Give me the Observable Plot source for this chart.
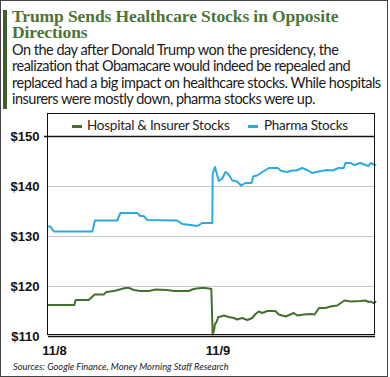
<!DOCTYPE html>
<html>
<head>
<meta charset="utf-8">
<script src="https://cdn.jsdelivr.net/npm/d3@7"></script>
<script src="https://cdn.jsdelivr.net/npm/@observablehq/plot@0.6"></script>
<style>
  html, body { margin: 0; padding: 0; background: #fff; }
  #wrap { position: relative; width: 390px; height: 377px; overflow: hidden; background: #fff; }
  #outer { position: absolute; left: 0; top: 0; width: 386px; height: 375px; border: 1px solid #444; box-sizing: content-box; }
  #bar { position: absolute; left: 3px; top: 10px; width: 4px; height: 99px; background: #3e5f2b; }
  .title { position: absolute; left: 12px; font-family: "Liberation Serif", serif; font-weight: bold; font-size: 17.5px; line-height: 13px; color: #4c7434; white-space: nowrap; letter-spacing: -0.1px; }
  #sub { position: absolute; left: 12px; top: 42px; width: 375px; font-family: Lato, sans-serif; font-size: 14.5px; line-height: 16.4px; letter-spacing: -0.5px; color: #1a1a1a; white-space: nowrap; }
  #box { position: absolute; left: 47px; top: 113px; width: 328px; height: 222px; border: 1.5px solid #111; box-sizing: border-box; }
  #legend { position: absolute; left: 47px; top: 117px; width: 328px; height: 20px; font-family: Lato, sans-serif; font-size: 13.5px; letter-spacing: -0.25px; color: #222; }
  .sw { position: absolute; top: 8px; width: 10px; height: 3px; }
  .lt { position: absolute; top: 0px; white-space: nowrap; }
  #chart { position: absolute; left: 0; top: 114px; }
  #cap { position: absolute; left: 13px; top: 361px; font-family: Lato, sans-serif; font-style: italic; font-size: 9.3px; color: #222; white-space: nowrap; }
</style>
</head>
<body>
<div id="wrap">
  <div id="outer"></div>
  <div id="bar"></div>
  <div class="title" style="top: 10px;">Trump Sends Healthcare Stocks in Opposite</div>
  <div class="title" style="top: 26px;">Directions</div>
  <div id="sub">On the day after Donald Trump won the presidency, the<br>realization that Obamacare would indeed be repealed and<br>replaced had a big impact on healthcare stocks. While hospitals<br>insurers were mostly down, pharma stocks were up.</div>
  <div id="chart"></div>
  <div id="box"></div>
  <div id="legend"></div>
  <div id="cap">Sources: Google Finance, Money Morning Staff Research</div>
</div>
<script>
// Series names and colours
const seriesNames = ["Hospital & Insurer Stocks", "Pharma Stocks"];
const seriesColors = ["#44702f", "#29abe2"];

// x: position across the two sessions (0 = open 11/8, 50 = open 11/9, 100 = close 11/9)
const hospitalT = [0, 7.9, 8.3, 12.3, 14.1, 16.9, 17.7, 20.0, 23.5, 24.6, 26.1, 28.1, 30.7, 32.7, 36.3, 38.3, 42.9, 44.4, 46.5, 48.0, 49.8,
  50.2, 50.6, 50.9, 51.4, 51.9, 52.8, 53.6, 55.1, 56.7, 57.7, 59.2, 60.8, 62.3, 63.3, 64.3, 65.4, 66.9, 69.4, 70.4, 72.5, 75.0, 76.1, 78.1, 80.1, 81.4, 82.7, 84.7, 86.2, 88.3, 90.5, 92.4, 95.4, 96.9, 97.9, 98.5, 99.3, 100];
const hospitalV = [116.3, 116.3, 117.3, 117.3, 118.4, 118.4, 118.9, 119.1, 119.7, 119.7, 119.3, 119.1, 119.1, 119.4, 119.3, 119.1, 119.1, 119.5, 119.7, 119.7, 119.5,
  110.4, 111.2, 112.5, 112.9, 113.9, 114.0, 114.2, 113.9, 113.7, 113.4, 113.7, 113.3, 113.7, 114.5, 115.0, 114.7, 115.1, 115.1, 114.4, 114.0, 114.7, 114.2, 114.4, 114.5, 114.4, 115.7, 115.7, 116.0, 116.2, 117.2, 117.0, 117.1, 117.2, 116.9, 117.0, 116.7, 116.9];

const pharmaT = [0, 0.6, 1.6, 13.4, 14.2, 21.0, 22.0, 27.1, 28.1, 29.1, 30.2, 39.4, 40.9, 43.4, 45.5, 47.0, 50.1,
  50.2, 50.9, 52.1, 53.1, 54.1, 55.0, 56.2, 57.7, 58.9, 60.2, 62.1, 62.6, 63.8, 65.4, 67.4, 70.1, 71.2, 73.0, 74.5, 75.8, 77.6, 79.1, 80.6, 82.7, 85.2, 86.8, 88.8, 90.3, 90.8, 92.4, 93.4, 95.4, 96.9, 97.9, 98.5, 99.5, 100];
const pharmaV = [132.0, 132.0, 131.0, 131.0, 133.2, 133.2, 134.7, 134.7, 134.1, 134.1, 133.3, 133.2, 132.5, 132.3, 132.1, 132.7, 132.7,
  142.5, 143.9, 141.1, 141.5, 142.9, 142.5, 141.2, 141.0, 140.2, 140.7, 140.7, 142.0, 142.2, 142.9, 143.7, 143.7, 143.1, 142.9, 143.2, 143.2, 143.7, 143.3, 142.7, 143.0, 143.3, 143.2, 143.7, 143.7, 144.7, 144.7, 144.3, 144.7, 144.3, 144.1, 144.7, 144.4, 144.3];

// Axis ticks
const yTicks = [110, 120, 130, 140, 150];
const xTicks = [0, 50];
const xTickLabels = ["11/8", "11/9"];

const hospital = hospitalT.map((t, i) => ({t, v: hospitalV[i]}));
const pharma = pharmaT.map((t, i) => ({t, v: pharmaV[i]}));

const chart = Plot.plot({
  width: 390,
  height: 246,
  marginLeft: 48,
  marginRight: 15,
  marginTop: 22,
  marginBottom: 24,
  style: {background: "transparent", overflow: "visible"},
  x: {domain: [0, 100], label: null},
  y: {domain: [110, 150], label: null},
  marks: [
    Plot.ruleY([120, 130, 140], {stroke: "#c8c8c8", strokeWidth: 1}),
    Plot.line(pharma, {x: "t", y: "v", stroke: seriesColors[1], strokeWidth: 2}),
    Plot.line(hospital, {x: "t", y: "v", stroke: seriesColors[0], strokeWidth: 2}),
    Plot.ruleY([150], {stroke: "#111", strokeWidth: 1.5, x1: -1.2, x2: 100}),
    Plot.ruleY([110], {stroke: "#111", strokeWidth: 1.5}),
    Plot.axisY({ticks: yTicks, tickFormat: (d) => "$" + d, tickSize: 0, tickPadding: 9, label: null,
      fontFamily: "Liberation Sans, sans-serif", fontWeight: "bold", fontSize: 13, fill: "#111"}),
    Plot.axisX({ticks: xTicks, tickFormat: (d) => xTickLabels[xTicks.indexOf(d)], tickSize: 0, tickPadding: 9, dx: 6, label: null,
      fontFamily: "Liberation Sans, sans-serif", fontWeight: "bold", fontSize: 13, fill: "#111"})
  ]
});
document.getElementById("chart").appendChild(chart);

// Legend
const legend = document.getElementById("legend");
const legendPos = [{sw: 25, tx: 40}, {sw: 201, tx: 217}];
seriesNames.forEach((name, i) => {
  const sw = document.createElement("div");
  sw.className = "sw";
  sw.style.left = legendPos[i].sw + "px";
  sw.style.background = seriesColors[i];
  legend.appendChild(sw);
  const lt = document.createElement("div");
  lt.className = "lt";
  lt.style.left = legendPos[i].tx + "px";
  lt.textContent = name;
  legend.appendChild(lt);
});
</script>
</body>
</html>
